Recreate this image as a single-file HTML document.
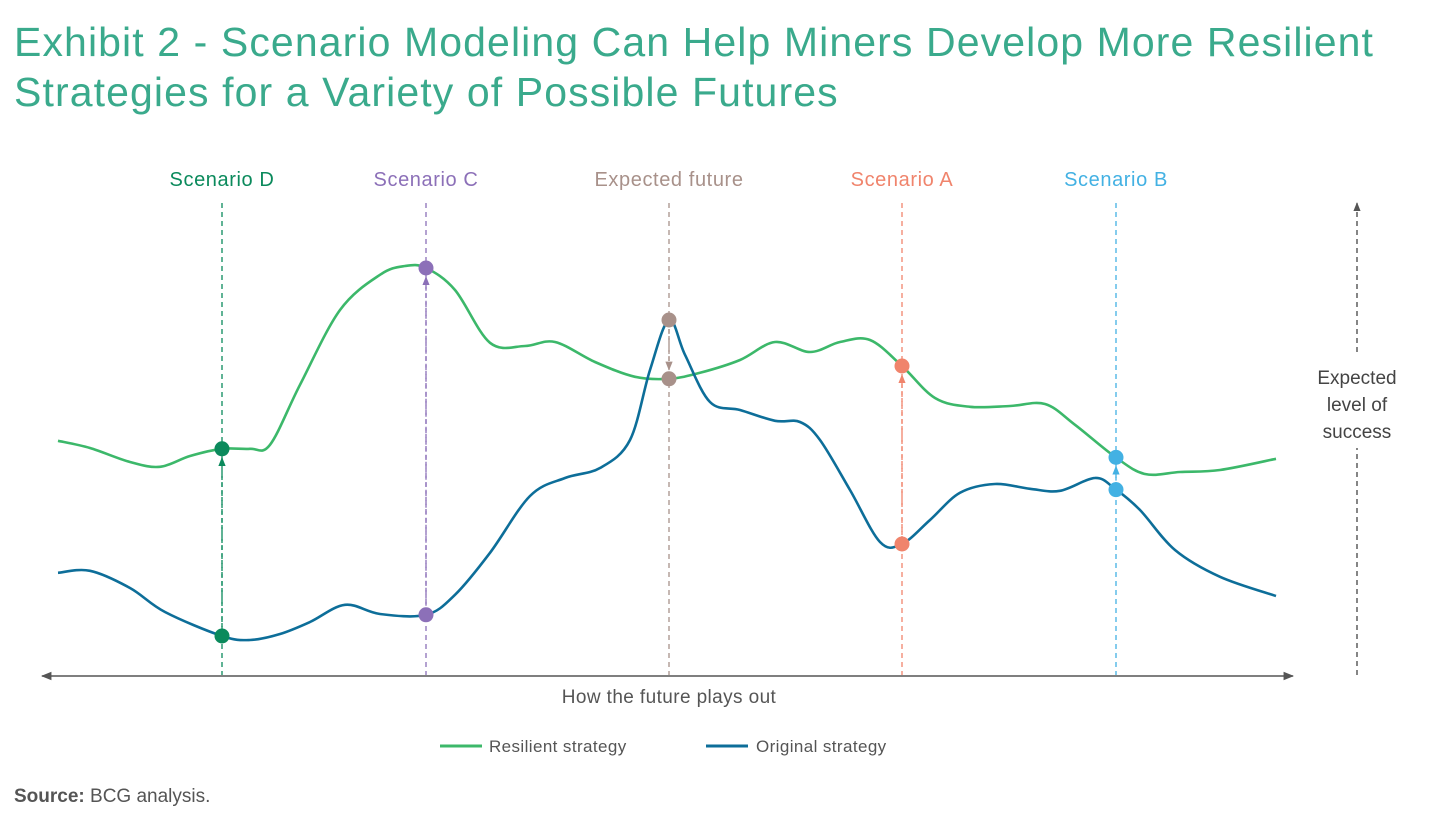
<!DOCTYPE html>
<html><head><meta charset="utf-8">
<style>
body{margin:0;background:#fff;width:1440px;height:836px;overflow:hidden;font-family:"Liberation Sans",sans-serif;}
#title{position:absolute;left:14px;top:17px;font-size:41px;line-height:50px;letter-spacing:1.1px;color:#3aaa8c;margin:0;font-weight:normal;}
#source{position:absolute;left:14px;top:786px;font-size:19px;color:#555;}
svg{position:absolute;left:0;top:0;}
</style></head><body>
<h1 id="title">Exhibit 2 - Scenario Modeling Can Help Miners Develop More Resilient<br>Strategies for a Variety of Possible Futures</h1>
<div id="source"><b>Source:</b> BCG analysis.</div>
<svg id="chart" width="1440" height="836"></svg>
<script>
const greenX=[0,32,72,102,132,164,192,212,242,282,322,347,368,397,432,467,497,537,577,611,642,682,717,752,782,812,844,877,912,952,987,1017,1057,1087,1122,1162,1218];
const greenY=[59.8,58,54.5,53.3,56,57.8,57.8,58.8,73.8,92.5,101.3,103.5,103,97.5,84.3,83.5,84.5,79.5,75.8,75.3,76.8,80,84.5,82,84.5,85,78.5,70.5,68.3,68.5,69,63.8,55.8,51.5,52,52.5,55.3];
const blueX=[0,32,72,107,164,192,222,252,287,322,368,397,432,472,507,542,572,592,611,627,652,682,717,742,762,792,822,844,872,902,937,972,1002,1037,1057,1082,1117,1162,1218];
const blueY=[26.8,27.3,23,17,11,10,11.5,14.5,18.8,16.5,16.3,21.3,31.8,46,50.5,53,60,77.5,90,81.3,69.5,67.5,64.8,64.5,60,47.5,34.5,34,40,46.8,49,47.8,47.3,50.5,47.8,42.5,32.5,25.8,21];
const scenNames=["Scenario D","Scenario C","Expected future","Scenario A","Scenario B"];
const scenX=[164,368,611,844,1058];
const scenColors=["#0b8a5c","#8c70b8","#a8918a","#f0846c","#43b1e3"];
const NS="http://www.w3.org/2000/svg";
const svg=document.getElementById('chart');
const sx=v=>58+v;
const sy=v=>680-v*4;
function el(t,a,p){const e=document.createElementNS(NS,t);for(const k in a)e.setAttribute(k,a[k]);(p||svg).appendChild(e);return e;}
function interp(xs,ys,x){for(let i=0;i<xs.length-1;i++){if(x>=xs[i]&&x<=xs[i+1]){const t=(x-xs[i])/(xs[i+1]-xs[i]);return ys[i]+t*(ys[i+1]-ys[i]);}}return ys[ys.length-1];}
function smooth(xs,ys){const p=xs.map((x,i)=>[sx(x),sy(ys[i])]);let d=`M${p[0][0]},${p[0][1]}`;for(let i=0;i<p.length-1;i++){const p0=p[i-1]||p[i],p1=p[i],p2=p[i+1],p3=p[i+2]||p2;d+=` C${p1[0]+(p2[0]-p0[0])/6},${p1[1]+(p2[1]-p0[1])/6} ${p2[0]-(p3[0]-p1[0])/6},${p2[1]-(p3[1]-p1[1])/6} ${p2[0]},${p2[1]}`;}return d;}
const defs=el('defs',{});
function marker(id,c){const m=el('marker',{id:id,viewBox:'0 0 10 10',refX:9,refY:5,markerWidth:7,markerHeight:7,orient:'auto-start-reverse'},defs);el('path',{d:'M0,1 L10,5 L0,9 z',fill:c},m);}
marker('axarr','#555');
scenColors.forEach((c,i)=>marker('m'+i,c));
const ax=el('line',{x1:42,y1:676,x2:1293,y2:676,stroke:'#555','stroke-width':1.5,'marker-start':'url(#axarr)','marker-end':'url(#axarr)'});

const xt=el('text',{x:669,y:703,'text-anchor':'middle','font-size':19,fill:'#555','letter-spacing':0.4});xt.textContent='How the future plays out';

const ra1=el('line',{x1:1357,y1:675,x2:1357,y2:448,stroke:'#444','stroke-width':1.3,'stroke-dasharray':'5,4'});

const ra2=el('line',{x1:1357,y1:352,x2:1357,y2:203,stroke:'#444','stroke-width':1.3,'stroke-dasharray':'5,4','marker-end':'url(#axarr)'});

["Expected","level of","success"].forEach((s,i)=>{const t=el('text',{x:1357,y:384+i*27,'text-anchor':'middle','font-size':19,fill:'#444'});t.textContent=s;
});
scenX.forEach((x,i)=>{
 const t=el('text',{x:sx(x),y:186,'text-anchor':'middle','font-size':20,fill:scenColors[i],'letter-spacing':0.6});t.textContent=scenNames[i];
 
 const l=el('line',{x1:sx(x),y1:203,x2:sx(x),y2:675,stroke:scenColors[i],'stroke-width':1.3,'stroke-dasharray':'5,4'});
 
});
const g=el('path',{d:smooth(greenX,greenY),fill:'none',stroke:'#3cb86a','stroke-width':2.6});

const b=el('path',{d:smooth(blueX,blueY),fill:'none',stroke:'#0d6e99','stroke-width':2.6});

scenX.forEach((x,i)=>{
 const gy=sy(interp(greenX,greenY,x)),by=sy(interp(blueX,blueY,x));
 const dir=gy<by?1:-1;
 const a=el('line',{x1:sx(x),y1:by-dir*9,x2:sx(x),y2:gy+dir*9,stroke:scenColors[i],'stroke-width':1.3,'stroke-dasharray':'4,3','marker-end':'url(#m'+i+')'});
 
 const c1=el('circle',{cx:sx(x),cy:gy,r:7.5,fill:scenColors[i]});
 
 const c2=el('circle',{cx:sx(x),cy:by,r:7.5,fill:scenColors[i]});
 
});
const l1=el('line',{x1:440,y1:746,x2:482,y2:746,stroke:'#3cb86a','stroke-width':3});

const t1=el('text',{x:489,y:752,'font-size':17,fill:'#555','letter-spacing':0.4});t1.textContent='Resilient strategy';

const l2=el('line',{x1:706,y1:746,x2:748,y2:746,stroke:'#0d6e99','stroke-width':3});

const t2=el('text',{x:756,y:752,'font-size':17,fill:'#555','letter-spacing':0.4});t2.textContent='Original strategy';

</script>
</body></html>
